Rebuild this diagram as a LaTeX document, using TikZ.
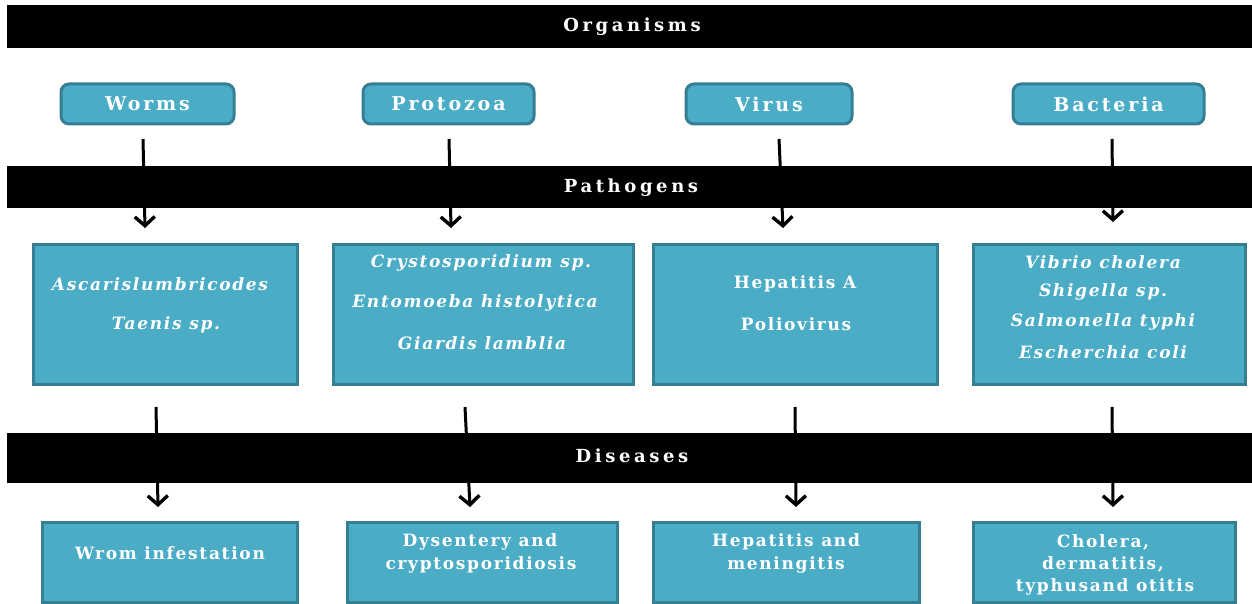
\documentclass[tikz,border=0pt]{standalone}
\usepackage{fontspec}
\setmainfont{DejaVu Serif}
\newfontfamily\hfont[LetterSpace=20]{DejaVu Serif}
\newfontfamily\ofont[LetterSpace=15]{DejaVu Serif}
\newfontfamily\bfont[LetterSpace=10]{DejaVu Serif}
\newfontfamily\ifont[LetterSpace=10]{DejaVu Serif}
\usetikzlibrary{arrows.meta}
\definecolor{tealfill}{HTML}{4BACC6}
\definecolor{tealedge}{HTML}{357E93}
\tikzset{
  hdr/.style={text=white, inner sep=0pt, font=\hfont\bfseries\fontsize{18}{21}\selectfont},
  bar/.style={fill=black, draw=none, inner sep=0pt, outer sep=0pt},
  orgbox/.style={rectangle, rounded corners=8pt, fill=tealfill, draw=tealedge,
    line width=3pt, inner sep=0pt, minimum height=40pt, text=white,
    font=\ofont\bfseries\fontsize{19}{22}\selectfont},
  pbox/.style={rectangle, fill=tealfill, draw=tealedge, line width=3pt,
    inner sep=0pt},
  itxt/.style={text=white, inner sep=0pt, font=\ifont\bfseries\itshape\fontsize{17}{20}\selectfont},
  utxt/.style={text=white, inner sep=0pt, font=\bfont\bfseries\fontsize{17}{20}\selectfont},
  conn/.style={line width=3pt, -{Straight Barb[length=9pt,width=20pt,line width=3.4pt]}},
}
\begin{document}
\begin{tikzpicture}[x=1pt,y=-1pt]
\useasboundingbox (0,0) rectangle (1252,604);
\fill[white] (0,0) rectangle (1252,604);

% connectors first (bars cover their middle)
\coordinate (a1) at (143,139); \coordinate (b1) at (145,228);
\coordinate (a2) at (449,139); \coordinate (b2) at (451,228);
\coordinate (a3) at (779,139); \coordinate (b3) at (783,228);
\coordinate (a4) at (1112,139); \coordinate (b4) at (1113,222);
\coordinate (c1) at (156,407); \coordinate (d1) at (158,507);
\coordinate (c2) at (465,407); \coordinate (d2) at (470,507);
\coordinate (c3) at (795,407); \coordinate (d3) at (796,507);
\coordinate (c4) at (1112,407); \coordinate (d4) at (1113,507);
\foreach \s/\e in {a1/b1,a2/b2,a3/b3,a4/b4,c1/d1,c2/d2,c3/d3,c4/d4}
  \draw[conn] (\s) -- (\e);

% bars
\node[bar, minimum width=1245pt, minimum height=43pt] (org) at (629.5,26.5) {};
\node[hdr] (orgt) at (632,27) {Organisms};
\node[bar, minimum width=1245pt, minimum height=42pt] (pat) at (629.5,187) {};
\node[hdr] (patt) at (631,188) {Pathogens};
\node[bar, minimum width=1245pt, minimum height=50pt] (dis) at (629.5,458) {};
\node[hdr] (dist) at (632,456) {Diseases};

% organism boxes
\node[orgbox, minimum width=173pt] (worms) at (147.5,104) {Worms};
\node[orgbox, minimum width=171pt] (proto) at (448.5,104) {Protozoa};
\node[orgbox, minimum width=166pt] (virus) at (769,104) {Virus};
\node[orgbox, minimum width=191pt] (bact) at (1108.5,104) {Bacteria};

% pathogen boxes
\node[pbox, minimum width=264pt, minimum height=140pt] (pw) at (165,314) {};
\node[pbox, minimum width=300pt, minimum height=140pt] (pp) at (483,314) {};
\node[pbox, minimum width=284pt, minimum height=140pt] (pv) at (795,314) {};
\node[pbox, minimum width=272pt, minimum height=140pt] (pb) at (1109,314) {};

\node[itxt] (t1) at (160,284) {Ascarislumbricodes};
\node[itxt] (t2) at (166,325) {Taenis sp.};
\node[itxt] (t3) at (481,263) {Crystosporidium sp.};
\node[itxt] (t4) at (475,303) {Entomoeba histolytica};
\node[itxt] (t5) at (482,343) {Giardis lamblia};
\node[utxt] (t6) at (795,284) {Hepatitis A};
\node[utxt] (t7) at (796,324) {Poliovirus};
\node[itxt] (t8) at (1103,262) {Vibrio cholera};
\node[itxt] (t9) at (1103,292) {Shigella sp.};
\node[itxt] (t10) at (1103,322) {Salmonella typhi};
\node[itxt] (t11) at (1103,352) {Escherchia coli};

% disease boxes
\node[pbox, minimum width=255pt, minimum height=80pt] (dw) at (169.5,562.5) {};
\node[pbox, minimum width=270pt, minimum height=80pt] (dp) at (482,562.5) {};
\node[pbox, minimum width=266pt, minimum height=80pt] (dv) at (786,562.5) {};
\node[pbox, minimum width=262pt, minimum height=80pt] (db) at (1104,562.5) {};

\node[utxt] (u1) at (170,553) {Wrom infestation};
\node[utxt] (u2) at (480,542) {Dysentery and};
\node[utxt] (u3) at (481,565) {cryptosporidiosis};
\node[utxt] (u4) at (786,542) {Hepatitis and};
\node[utxt] (u5) at (786,565) {meningitis};
\node[utxt] (u6) at (1103,542) {Cholera,};
\node[utxt] (u7) at (1103,564) {dermatitis,};
\node[utxt] (u8) at (1105,587) {typhusand otitis};
\end{tikzpicture}
\end{document}
